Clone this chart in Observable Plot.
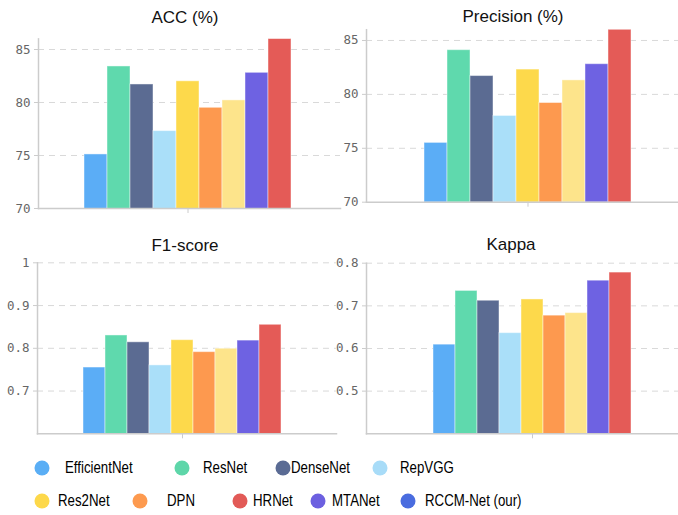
<!DOCTYPE html>
<html>
<head>
<meta charset="utf-8">
<script src="https://cdn.jsdelivr.net/npm/d3@7"></script>
<script src="https://cdn.jsdelivr.net/npm/@observablehq/plot@0.6"></script>
<style>
  html, body { margin: 0; padding: 0; background: #fff; }
  #root { position: relative; width: 678px; height: 515px; overflow: hidden; background: #fff; font-family: "Liberation Sans", Arial, sans-serif; }
  .panel { position: absolute; }
  .panel svg { overflow: visible; }
  .ttl { position: absolute; font-size: 17px; color: #111; transform: translate(-50%, -50%); white-space: nowrap; }
  .lg-dot { position: absolute; width: 15px; height: 15px; border-radius: 50%; transform: translate(-50%, -50%); }
  .lg-txt { position: absolute; font-size: 17px; color: #000; white-space: nowrap; transform-origin: left center; transform: translateY(-50%) scaleX(0.78); }
</style>
</head>
<body>
<div id="root"></div>
<script>
// ---- data ----
const models = ["EfficientNet", "ResNet", "DenseNet", "RepVGG", "Res2Net", "DPN", "HRNet", "MTANet", "RCCM-Net (our)"];
const barColors = ["#5badf6", "#5fd9ad", "#5b6b92", "#aadff9", "#fdd94b", "#fd994f", "#fde48b", "#6e62e2", "#e45b57"];
const accValues = [75.1, 83.4, 81.7, 77.3, 82.0, 79.5, 80.2, 82.8, 86.0];
const precisionValues = [75.5, 84.1, 81.7, 78.0, 82.3, 79.2, 81.3, 82.8, 86.0];
const f1Values = [0.755, 0.830, 0.814, 0.760, 0.819, 0.791, 0.799, 0.818, 0.855];
const kappaValues = [0.609, 0.735, 0.712, 0.636, 0.715, 0.677, 0.683, 0.759, 0.778];
const accTicks = [70, 75, 80, 85];
const precisionTicks = [70, 75, 80, 85];
const f1Ticks = [0.7, 0.8, 0.9, 1];
const kappaTicks = [0.5, 0.6, 0.7, 0.8];
const legendNames = ["EfficientNet", "ResNet", "DenseNet", "RepVGG", "Res2Net", "DPN", "HRNet", "MTANet", "RCCM-Net (our)"];
const legendColors = ["#5aaef5", "#5ed6a9", "#5a6b94", "#a8dcf8", "#fdd84a", "#fd9a4f", "#e25a57", "#6c60e0", "#4a6cdf"];

// ---- layout (positions only) ----
const panels = [
  {title: "ACC (%)", values: accValues, ticks: accTicks, domain: [70, 86], fmt: d => String(d),
   left: 0, top: 0, width: 340, height: 218, mL: 38, mT: 38.4, xr: [80, 295], tx: 185, ty: 18},
  {title: "Precision (%)", values: precisionValues, ticks: precisionTicks, domain: [70, 86], fmt: d => String(d),
   left: 338, top: 0, width: 340, height: 211.7, mL: 28, mT: 29.2, xr: [82, 297], tx: 513, ty: 17},
  {title: "F1-score", values: f1Values, ticks: f1Ticks, domain: [0.6, 1], fmt: d => d === 1 ? "1" : d.toFixed(1),
   left: 0, top: 220, width: 336, height: 223.3, mL: 37, mT: 42.3, xr: [80, 283], tx: 185, ty: 246},
  {title: "Kappa", values: kappaValues, ticks: kappaTicks, domain: [0.4, 0.8], fmt: d => d.toFixed(1),
   left: 338, top: 220, width: 340, height: 223.3, mL: 28, mT: 42.7, xr: [92.7, 295.7], tx: 511, ty: 245}
];
const legendLayout = [
  {cx: 42, lx: 65, y: 468}, {cx: 182, lx: 203, y: 468}, {cx: 283, lx: 291, y: 468}, {cx: 380, lx: 400, y: 468},
  {cx: 42, lx: 58, y: 500.5}, {cx: 140, lx: 167, y: 500.5}, {cx: 240, lx: 253, y: 500.5}, {cx: 318, lx: 332, y: 500.5}, {cx: 408, lx: 425, y: 500.5}
];

const root = document.getElementById("root");

for (const p of panels) {
  const data = models.map((m, i) => ({model: m, value: p.values[i]}));
  const gridTicks = p.ticks.filter(t => t > p.domain[0]);
  const chart = Plot.plot({
    width: p.width,
    height: p.height,
    marginLeft: p.mL,
    marginRight: 0,
    marginTop: p.mT,
    marginBottom: 10,
    style: {fontFamily: "'DejaVu Sans Mono', monospace", fontSize: "12.5px", background: "transparent", overflow: "visible"},
    x: {domain: models, range: p.xr, padding: 0},
    y: {domain: p.domain},
    color: {domain: models, range: barColors},
    marks: [
      Plot.gridY(gridTicks, {stroke: "#d9d9d9", strokeOpacity: 1, strokeDasharray: "6,5"}),
      Plot.barY(data, {x: "model", y: "value", fill: "model", stroke: "#ffffff", strokeOpacity: 0.45, strokeWidth: 1, clip: true}),
      Plot.frame({anchor: "left", stroke: "#cccccc", strokeWidth: 1.5}),
      Plot.frame({anchor: "bottom", stroke: "#cccccc", strokeWidth: 1.5}),
      Plot.axisY(p.ticks, {tickSize: 4, tickPadding: 4, stroke: "#cccccc", fill: "#666666", tickFormat: p.fmt, label: null}),
      Plot.axisX([models[4]], {tickSize: 5, stroke: "#cccccc", tickFormat: () => "", label: null})
    ]
  });
  const div = document.createElement("div");
  div.className = "panel";
  div.style.left = p.left + "px";
  div.style.top = p.top + "px";
  div.appendChild(chart);
  root.appendChild(div);

  const t = document.createElement("div");
  t.className = "ttl";
  t.style.left = p.tx + "px";
  t.style.top = p.ty + "px";
  t.textContent = p.title;
  root.appendChild(t);
}

legendNames.forEach((name, i) => {
  const L = legendLayout[i];
  const dot = document.createElement("div");
  dot.className = "lg-dot";
  dot.style.left = L.cx + "px";
  dot.style.top = L.y + "px";
  dot.style.background = legendColors[i];
  root.appendChild(dot);
  const tx = document.createElement("div");
  tx.className = "lg-txt";
  tx.style.left = L.lx + "px";
  tx.style.top = L.y + "px";
  tx.textContent = name;
  root.appendChild(tx);
});
</script>
</body>
</html>
